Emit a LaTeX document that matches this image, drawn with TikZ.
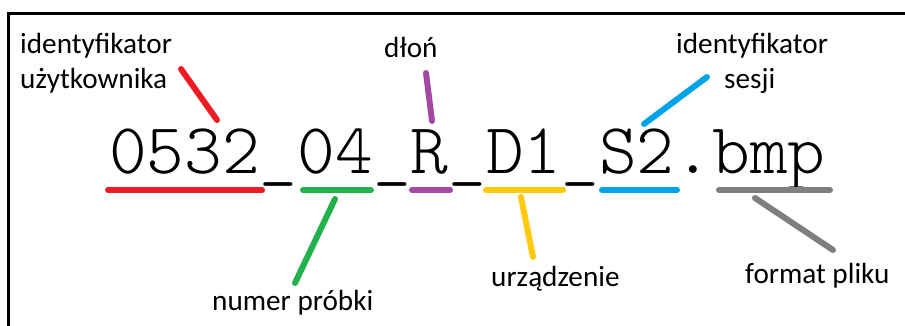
\documentclass[tikz,border=0pt]{standalone}
\usepackage{fontspec}
\setmainfont{Carlito}
\newfontfamily\namefont{lmmonolt10-regular.otf}
\begin{document}
\begin{tikzpicture}[x=1pt,y=-1pt,
  lbl/.style={anchor=base west,inner sep=0pt,font=\fontsize{29.2}{29}\selectfont},
  stroke/.style={line width=6pt,line cap=round},
  ]
\definecolor{pred}{RGB}{237,28,36}
\definecolor{pgreen}{RGB}{34,177,76}
\definecolor{ppurple}{RGB}{163,73,164}
\definecolor{pyellow}{RGB}{255,201,14}
\definecolor{pblue}{RGB}{0,162,232}
\definecolor{pgray}{RGB}{127,127,127}
\useasboundingbox (0,0) rectangle (905,325);
% frame (open to the right and bottom)
\draw[line width=3pt] (8.5,330) -- (8.5,13.5) -- (910,13.5);

% file name
\node[anchor=base west,inner sep=0pt,font=\namefont\fontsize{71.8}{72}\selectfont] (fname) at (109,173) {0532\_04\_R\_D1\_S2.bmp};

% labels
\node[lbl] (user1) at (20,53) {identyfikator};
\node[lbl] (user2) at (20,88) {użytkownika};
\node[lbl] (hand) at (384,57) {dłoń};
\node[lbl] (sess1) at (676,53) {identyfikator};
\node[lbl] (sess2) at (724,88) {sesji};
\node[lbl] (sample) at (212,310) {numer próbki};
\node[lbl] (device) at (491,286) {urządzenie};
\node[lbl] (fmt) at (745,283) {format pliku};

% underline end points
\coordinate (rA) at (108,190); \coordinate (rB) at (262,190);
\coordinate (gA) at (303,190); \coordinate (gB) at (371,190);
\coordinate (pA) at (412,190); \coordinate (pB) at (450,190);
\coordinate (yA) at (486,190); \coordinate (yB) at (563,190);
\coordinate (bA) at (602,190); \coordinate (bB) at (677,190);
\coordinate (kA) at (719,190); \coordinate (kB) at (830,190);

% leader end points
\coordinate (rL1) at (181,69);  \coordinate (rL2) at (217,120);
\coordinate (gL1) at (335,199); \coordinate (gL2) at (295,283);
\coordinate (pL1) at (426,73);  \coordinate (pL2) at (432,121);
\coordinate (yL1) at (521,197); \coordinate (yL2) at (533,257);
\coordinate (bL1) at (644,124); \coordinate (bL2) at (707,77);
\coordinate (kL1) at (755,198); \coordinate (kL2) at (833,250);

\draw[stroke,pred] (rA) -- (rB);
\draw[stroke,pred] (rL1) -- (rL2);
\draw[stroke,pgreen] (gA) -- (gB);
\draw[stroke,pgreen] (gL1) -- (gL2);
\draw[stroke,ppurple] (pA) -- (pB);
\draw[stroke,ppurple] (pL1) -- (pL2);
\draw[stroke,pyellow] (yA) -- (yB);
\draw[stroke,pyellow] (yL1) -- (yL2);
\draw[stroke,pblue] (bA) -- (bB);
\draw[stroke,pblue] (bL1) -- (bL2);
\draw[stroke,pgray] (kA) -- (kB);
\draw[stroke,pgray] (kL1) -- (kL2);
\end{tikzpicture}
\end{document}
